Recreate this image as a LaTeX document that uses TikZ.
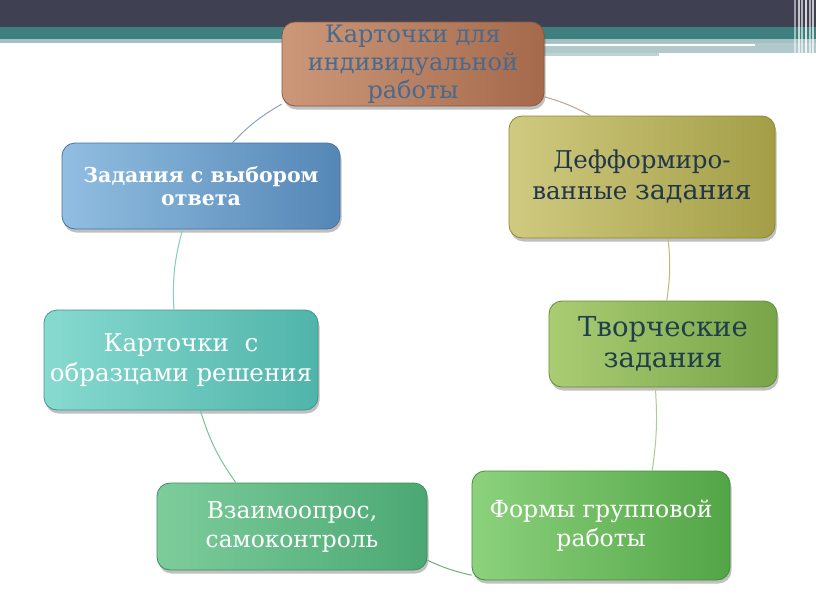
\documentclass[tikz,border=0pt]{standalone}
\usepackage{fontspec}
\setmainfont{DejaVu Serif}
\usetikzlibrary{shadows}
\definecolor{barDark}{RGB}{63,64,82}
\definecolor{barTeal}{RGB}{62,128,128}
\definecolor{barLight}{RGB}{165,192,194}
\definecolor{aL}{RGB}{204,152,122}\definecolor{aR}{RGB}{165,105,75}\definecolor{aD}{RGB}{140,88,60}\definecolor{aT}{RGB}{72,106,142}
\definecolor{bL}{RGB}{208,202,128}\definecolor{bR}{RGB}{163,158,70}\definecolor{bD}{RGB}{140,136,55}\definecolor{bT}{RGB}{34,54,74}
\definecolor{cL}{RGB}{170,204,115}\definecolor{cR}{RGB}{120,165,72}\definecolor{cD}{RGB}{100,140,60}\definecolor{cT}{RGB}{32,62,76}
\definecolor{dL}{RGB}{140,210,125}\definecolor{dR}{RGB}{82,165,70}\definecolor{dD}{RGB}{70,140,60}
\definecolor{eL}{RGB}{125,205,155}\definecolor{eR}{RGB}{75,168,115}\definecolor{eD}{RGB}{62,140,98}
\definecolor{fL}{RGB}{135,218,208}\definecolor{fR}{RGB}{80,180,170}\definecolor{fD}{RGB}{65,150,140}
\definecolor{gL}{RGB}{145,190,225}\definecolor{gR}{RGB}{85,135,182}\definecolor{gD}{RGB}{70,115,160}
\definecolor{k12}{RGB}{185,165,150}\definecolor{k23}{RGB}{190,185,120}\definecolor{k34}{RGB}{170,205,150}
\definecolor{k45}{RGB}{120,170,130}\definecolor{k56}{RGB}{120,195,155}\definecolor{k67}{RGB}{130,205,190}
\definecolor{k71}{RGB}{140,165,195}
\tikzset{
  cbox/.style={rounded corners=13pt, align=center, inner sep=0pt, line width=0.8pt,
    drop shadow={shadow xshift=1.5pt, shadow yshift=-3.5pt, opacity=0.35, fill=black!70}},
  conn/.style={line width=1pt}
}
\begin{document}
\begin{tikzpicture}[x=1pt,y=1pt]
\useasboundingbox (0,0) rectangle (816,-613);
\fill[white] (0,0) rectangle (816,-613);
% top bar
\fill[barDark] (0,0) rectangle (816,-27);
\fill[barTeal] (0,-27) rectangle (816,-39);
\fill[barLight] (0,-39) rectangle (816,-43);
\fill[barLight!85] (540,-43) rectangle (816,-53);
\fill[barLight!70] (540,-53) rectangle (659,-56);
\fill[white] (0,-43.5) rectangle (755,-46);
\foreach \xx/\op in {794/0.5,798/0.7,801/0.6,805/0.8,809/0.6,812/0.7}
  \fill[white,opacity=\op] (\xx,0) rectangle (\xx+1.6,-56);
% nodes
\node[cbox, minimum width=262pt, minimum height=84pt, left color=aL, right color=aR, draw=aD, text=aT,
  font=\fontsize{24}{28}\selectfont] (n1) at (413,-64) {Карточки для\\индивидуальной\\работы};
\node[cbox, minimum width=266pt, minimum height=122pt, left color=bL, right color=bR, draw=bD, text=bT,
  font=\fontsize{24.5}{31}\selectfont] (n2) at (642,-177) {Дефформиро-\\ванные {\fontsize{27}{31}\selectfont задания}};
\node[cbox, minimum width=228pt, minimum height=86pt, left color=cL, right color=cR, draw=cD, text=cT,
  font=\fontsize{27.5}{31}\selectfont] (n3) at (663,-344) {Творческие\\задания};
\node[cbox, minimum width=258pt, minimum height=109pt, left color=dL, right color=dR, draw=dD, text=white,
  font=\fontsize{23.5}{29}\selectfont] (n4) at (601,-525.5) {Формы групповой\\работы};
\node[cbox, minimum width=270pt, minimum height=87pt, left color=eL, right color=eR, draw=eD, text=white,
  font=\fontsize{23.3}{29}\selectfont] (n5) at (292,-526.5) {Взаимоопрос,\\самоконтроль};
\node[cbox, minimum width=274pt, minimum height=100pt, left color=fL, right color=fR, draw=fD, text=white,
  font=\fontsize{24.5}{30}\selectfont] (n6) at (181,-360) {Карточки \ с\\образцами решения};
\node[cbox, minimum width=278pt, minimum height=86pt, left color=gL, right color=gR, draw=gD, text=white,
  font=\fontsize{20.5}{23}\selectfont\bfseries] (n7) at (201,-186) {Задания с выбором\\ответа};
% connectors
\draw[conn, k12] (n1.-14) to[bend left=6] (n2.130);
\draw[conn, k23] (n2.-67) to[bend left=7] (n3.85);
\draw[conn, k34] (n3.-100) to[bend left=6] (n4.47);
\draw[conn, k45] (n4.201) to[bend left=6] (n5.-14);
\draw[conn, k56] (n5.142) to[bend left=9] (n6.-69);
\draw[conn, k67] (n6.98) to[bend left=9] (n7.-113);
\draw[conn, k71] (n7.54) to[bend left=8] (n1.197);
\end{tikzpicture}
\end{document}
